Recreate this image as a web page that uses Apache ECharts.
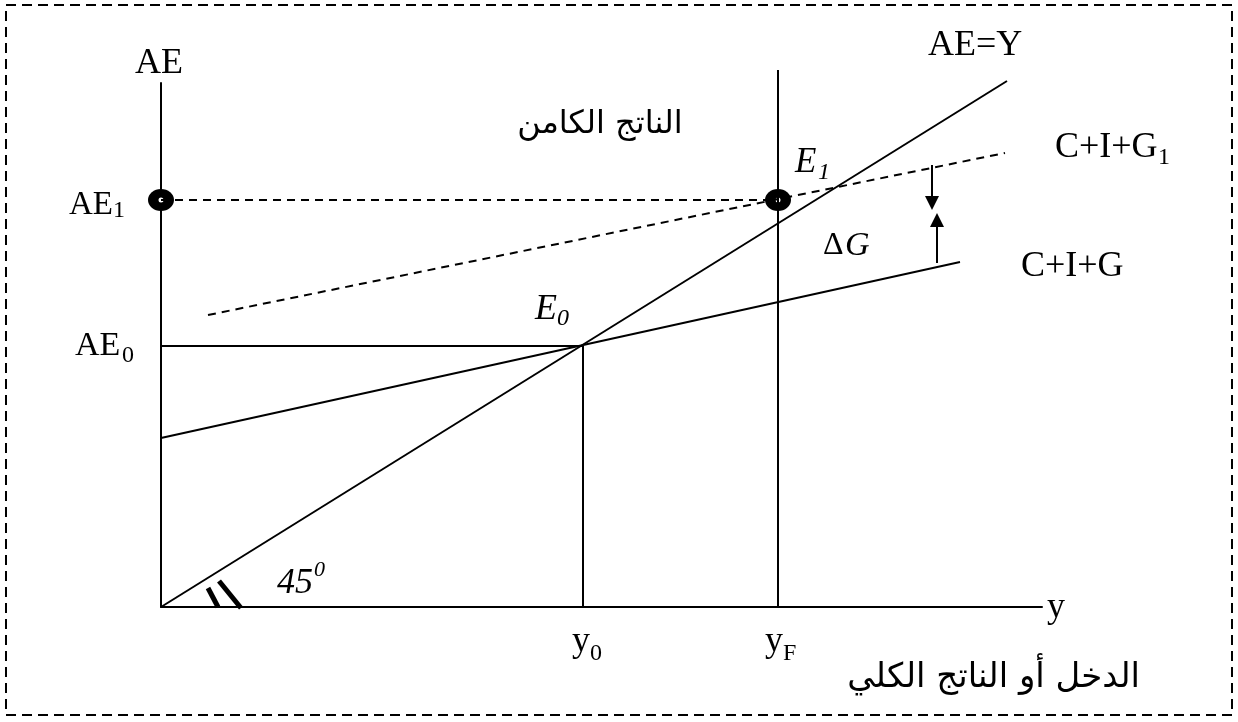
<!DOCTYPE html>
<html>
<head>
<meta charset="utf-8">
<script src="https://cdn.jsdelivr.net/npm/echarts@6/dist/echarts.min.js"></script>
<style>
  html, body { margin: 0; padding: 0; background: #fff; }
  #chart { width: 1238px; height: 722px; }
</style>
</head>
<body>
<div id="chart"></div>
<script>
const xMax = 881;
const yMax = 524;
const line45 = [[0, 0], [846, 526]];            // AE=Y
const lineCIG = [[0, 169], [799, 345]];         // C+I+G
const lineCIG1 = [[47, 292], [844, 454]];       // C+I+G1 (dashed)
const lineAE1 = [[0, 407], [617, 407]];         // AE1 dashed level
const lineAE0 = [[0, 261], [422, 261]];         // AE0 level
const lineY0 = [[422, 0], [422, 261]];          // y0
const lineYF = [[617, 0], [617, 537]];          // yF (potential output)
const dots = [[0, 407], [617, 407]];
const arrowDown = [[771, 442], [771, 404]];
const arrowUp = [[776, 344], [776, 387]];
const hatch1 = [[47, 19], [57, 0]];
const hatch2 = [[58, 26], [80, -1]];

const chart = echarts.init(document.getElementById('chart'));

const serif = '"Liberation Serif", "Times New Roman", serif';
const arabic = '"DejaVu Sans", "Noto Sans", sans-serif';

function seg(data, dashed, width) {
    return {
        type: 'line',
        data: data,
        symbol: 'none',
        clip: false,
        silent: true,
        lineStyle: { color: '#000', width: width || 2, type: dashed ? [8, 6] : 'solid' }
    };
}

function txt(text, x, y, size, opts) {
    opts = opts || {};
    return {
        type: 'text',
        x: x,
        y: y,
        silent: true,
        style: {
            text: text,
            font: (opts.italic ? 'italic ' : '') + size + 'px ' + (opts.family || serif),
            fill: '#000',
            align: opts.align || 'left',
            verticalAlign: 'middle'
        }
    };
}

const option = {
    animation: false,
    grid: { left: 161, right: 1238 - 161 - xMax, top: 83, bottom: 115, containLabel: false },
    xAxis: {
        type: 'value', min: 0, max: xMax,
        axisLine: { show: true, onZero: false, lineStyle: { color: '#000', width: 2 } },
        axisTick: { show: false }, axisLabel: { show: false }, splitLine: { show: false }
    },
    yAxis: {
        type: 'value', min: 0, max: yMax,
        axisLine: { show: true, onZero: false, lineStyle: { color: '#000', width: 2 } },
        axisTick: { show: false }, axisLabel: { show: false }, splitLine: { show: false }
    },
    series: [
        seg(line45),
        seg(lineCIG),
        seg(lineCIG1, true),
        seg(lineAE1, true),
        seg(lineAE0),
        seg(lineY0),
        seg(lineYF),
        seg(hatch1, false, 5),
        seg(hatch2, false, 5),
        {
            type: 'lines',
            coordinateSystem: 'cartesian2d',
            symbol: ['none', 'triangle'],
            symbolSize: [0, 14],
            silent: true,
            lineStyle: { color: '#000', width: 2, opacity: 1 },
            data: [{ coords: arrowDown }, { coords: arrowUp }]
        },
        {
            type: 'scatter',
            data: dots,
            symbol: 'circle',
            symbolSize: [26, 22],
            silent: true,
            itemStyle: { color: '#000', opacity: 1 }
        },
        {
            type: 'scatter',
            data: dots,
            symbol: 'circle',
            symbolSize: 5,
            silent: true,
            itemStyle: { color: '#fff', opacity: 1 }
        }
    ],
    graphic: [
        // الإطار المتقطع
        {
            type: 'rect',
            silent: true,
            shape: { x: 6, y: 5, width: 1226, height: 710 },
            style: { fill: null, stroke: '#000', lineWidth: 2, lineDash: [10, 6] }
        },
        txt('AE', 135, 64, 36),
        txt('AE=Y', 928, 46, 36),
        txt('C+I+G', 1055, 148, 36),
        txt('1', 1158, 158, 24),
        txt('C+I+G', 1021, 267, 36),
        txt('AE', 69, 205, 33),
        txt('1', 113, 211, 24),
        txt('AE', 75, 346, 34),
        txt('0', 122, 356, 24),
        txt('y', 1047, 608, 36),
        txt('y', 572, 642, 36),
        txt('0', 590, 654, 24),
        txt('y', 765, 642, 36),
        txt('F', 783, 654, 24),
        txt('E', 795, 163, 35, { italic: true }),
        txt('1', 818, 173, 24, { italic: true }),
        txt('E', 535, 310, 36, { italic: true }),
        txt('0', 557, 319, 24, { italic: true }),
        txt('Δ', 823, 246, 32),
        txt('G', 845, 246, 34, { italic: true }),
        txt('45', 277, 584, 36, { italic: true }),
        txt('0', 314, 570, 22, { italic: true }),
        txt('الناتج الكامن', 600, 125, 32, { family: arabic, align: 'center' }),
        txt('الدخل أو الناتج الكلي', 1140, 678, 34, { family: arabic, align: 'right' })
    ]
};

chart.setOption(option);
</script>
</body>
</html>
